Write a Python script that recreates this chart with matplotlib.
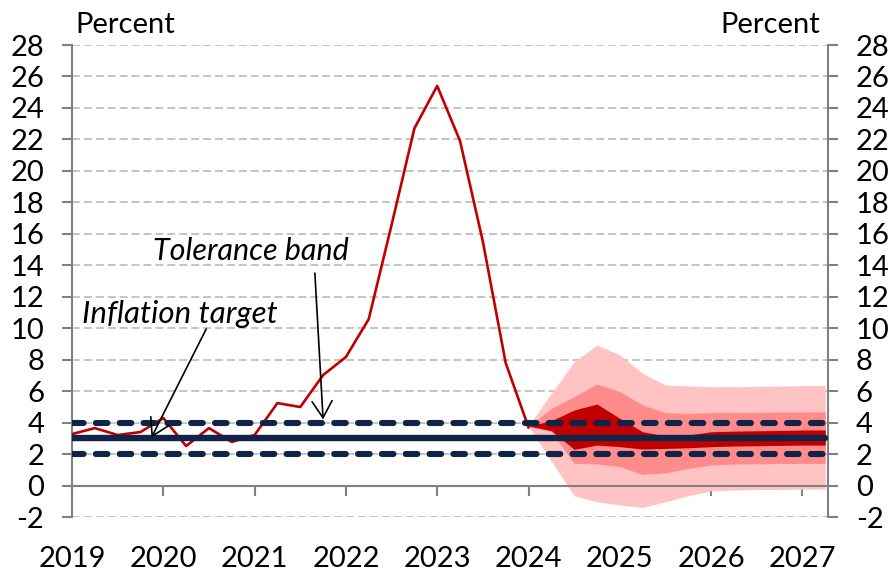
import numpy as np
import matplotlib.pyplot as plt

plt.rcParams['font.family'] = ['Lato', 'DejaVu Sans']
plt.rcParams['axes.unicode_minus'] = False  # plain hyphen in "-2"

# quarterly history, 2019Q1 - 2024Q1
hist_x = 2019 + np.arange(21) / 4
hist_cpi = [3.27, 3.65, 3.21, 3.4, 4.29, 2.51, 3.65, 2.77, 3.21, 5.24, 4.99,
            7.02, 8.17, 10.58, 16.56, 22.7, 25.4, 21.9, 15.5, 7.79, 3.7]

# fan chart, 2024Q1 - 2027Q2
fan_x = 2024 + np.arange(14) / 4
outer_hi = [3.78, 5.86, 7.87, 8.93, 8.3, 7.13, 6.39, 6.33, 6.28, 6.28, 6.3, 6.32, 6.35, 6.35]
outer_lo = [3.78, 1.54, -0.65, -1.03, -1.24, -1.39, -1.03, -0.65, -0.33, -0.29, -0.26, -0.25, -0.23, -0.22]
mid_hi = [3.78, 4.9, 5.65, 6.45, 5.97, 5.12, 4.63, 4.59, 4.63, 4.65, 4.65, 4.67, 4.67, 4.69]
mid_lo = [3.78, 3.42, 1.41, 1.37, 1.2, 0.71, 0.81, 1.09, 1.3, 1.37, 1.38, 1.4, 1.41, 1.41]
inner_hi = [3.78, 4.12, 4.8, 5.18, 4.27, 3.42, 3.15, 3.21, 3.42, 3.46, 3.48, 3.5, 3.53, 3.53]
inner_lo = [3.78, 3.49, 2.3, 2.57, 2.47, 2.32, 2.36, 2.4, 2.47, 2.51, 2.53, 2.55, 2.57, 2.57]

# target and tolerance band over the whole period
all_x = 2019 + np.arange(34) / 4
target = [3] * 34
band_hi = [4] * 34
band_lo = [2] * 34

years = list(range(2019, 2028))
yticks = list(range(-2, 29, 2))

navy = '#102448'
red = '#C00000'

fig = plt.figure(figsize=(8.88, 5.74), dpi=100)
ax = fig.add_axes([72 / 888, 1 - 517 / 574, 756 / 888, 472 / 574])

ax.fill_between(fan_x, outer_lo, outer_hi, color='#FFC3C3', lw=0, zorder=1)
ax.fill_between(fan_x, mid_lo, mid_hi, color='#FF8B8B', lw=0, zorder=1.1)
ax.fill_between(fan_x, inner_lo, inner_hi, color=red, lw=0, zorder=1.2)

ax.plot(hist_x, hist_cpi, color=red, lw=1.9, zorder=3)

ax.plot(all_x, target, color=navy, lw=4.6, solid_capstyle='round', zorder=4)
for band in (band_hi, band_lo):
    ax.plot(all_x, band, color=navy, lw=4.4, dashes=(1.9, 2.0),
            dash_capstyle='round', zorder=4)

# labels with arrows
ax.text(2019.11, 10.33, 'Inflation target', style='italic', fontsize=22.5, va='baseline')
ax.text(2019.885, 14.34, 'Tolerance band', style='italic', fontsize=22, va='baseline')
arrow = dict(arrowstyle='->,head_length=0.6,head_width=0.36', color='black', lw=1.2,
             mutation_scale=20, shrinkA=0, shrinkB=0)
ax.annotate('', xy=(2019.87, 3.05), xytext=(2020.47, 9.95), arrowprops=arrow, zorder=5)
ax.annotate('', xy=(2021.75, 4.2), xytext=(2021.66, 13.5), arrowprops=arrow, zorder=5)

ax.set_xlim(2019, 2027.28)
ax.set_ylim(-2, 28)

# y axes on both sides
ax.set_yticks(yticks)
ax.tick_params(axis='y', which='both', left=True, right=True, labelleft=True, labelright=True,
               direction='out', length=7, width=1.5, color='#808080', labelsize=21, pad=13)
ax.yaxis.grid(True, color='#BFBFBF', lw=1.3, linestyle=(0, (4.4, 2.2)))
ax.set_axisbelow(True)

for s in ('left', 'right'):
    ax.spines[s].set_color('#808080')
    ax.spines[s].set_linewidth(1.5)
ax.spines['top'].set_visible(False)

# x axis line sits at zero, year labels go below the plot
ax.spines['bottom'].set_position(('data', 0))
ax.spines['bottom'].set_color('#808080')
ax.spines['bottom'].set_linewidth(1.5)
ax.spines['bottom'].set_zorder(2)
ax.set_xticks(years)
ax.tick_params(axis='x', direction='out', length=7, width=1.5, color='#808080', labelbottom=False)

sec = ax.secondary_xaxis('bottom')
sec.set_xticks(years)
sec.tick_params(length=0, pad=21, labelsize=21)
sec.spines['bottom'].set_visible(False)

ax.text(0.004, 1.0254, 'Percent', transform=ax.transAxes, fontsize=21, va='baseline')
ax.text(0.989, 1.0254, 'Percent', transform=ax.transAxes, fontsize=21, va='baseline', ha='right')

fig.savefig('out.png', dpi=100)
